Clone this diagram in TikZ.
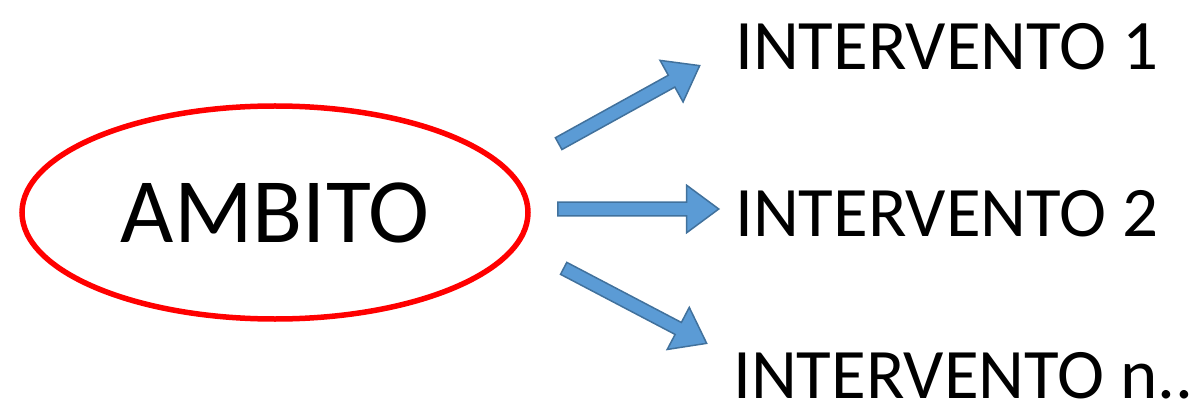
\documentclass[tikz,border=0pt]{standalone}
\usepackage{fontspec}
\setmainfont{Carlito}
\usepackage{xcolor}
\usetikzlibrary{shapes.geometric, shapes.arrows, calc}
\definecolor{arrowfill}{HTML}{5B9BD5}
\definecolor{arrowline}{HTML}{41719C}
\tikzset{
  scope/.style={draw=red, line width=5.5pt, ellipse, minimum width=506pt, minimum height=213pt, inner sep=0pt},
  item/.style={anchor=base west, inner sep=0pt, font=\fontsize{71}{78}\selectfont},
  fatarrow/.style={single arrow, draw=arrowline, fill=arrowfill, line width=1.5pt, inner sep=0pt,
    text height=12pt, text depth=0pt, single arrow head extend=17pt, single arrow tip angle=73, anchor=tail},
}

\begin{document}
\begin{tikzpicture}[x=1pt, y=-1pt]
    \useasboundingbox (0,0) rectangle (1196,406);
    \node[scope, font=\fontsize{92}{100}\selectfont] (ambito) at (275,212.5) {AMBITO};
    \node[item] (int1) at (735,70) {INTERVENTO 1};
    \node[item] (int2) at (735,236) {INTERVENTO 2};
    \node[item] (intn) at (733,398) {INTERVENTO n..};
    \coordinate (t1) at (558,144);
    \coordinate (h1) at (699,66);
    \coordinate (t2) at (557,209);
    \coordinate (h2) at (718,209);
    \coordinate (t3) at (563,268);
    \coordinate (h3) at (706,343);
    \foreach \i in {1,2,3}
      \path let \p1=($(h\i)-(t\i)$), \n1={atan2(\y1,\x1)}, \n2={veclen(\x1,\y1)} in
        node[fatarrow, minimum height=\n2, rotate=\n1] (arrow\i) at (t\i) {};
  \end{tikzpicture}
\end{document}
